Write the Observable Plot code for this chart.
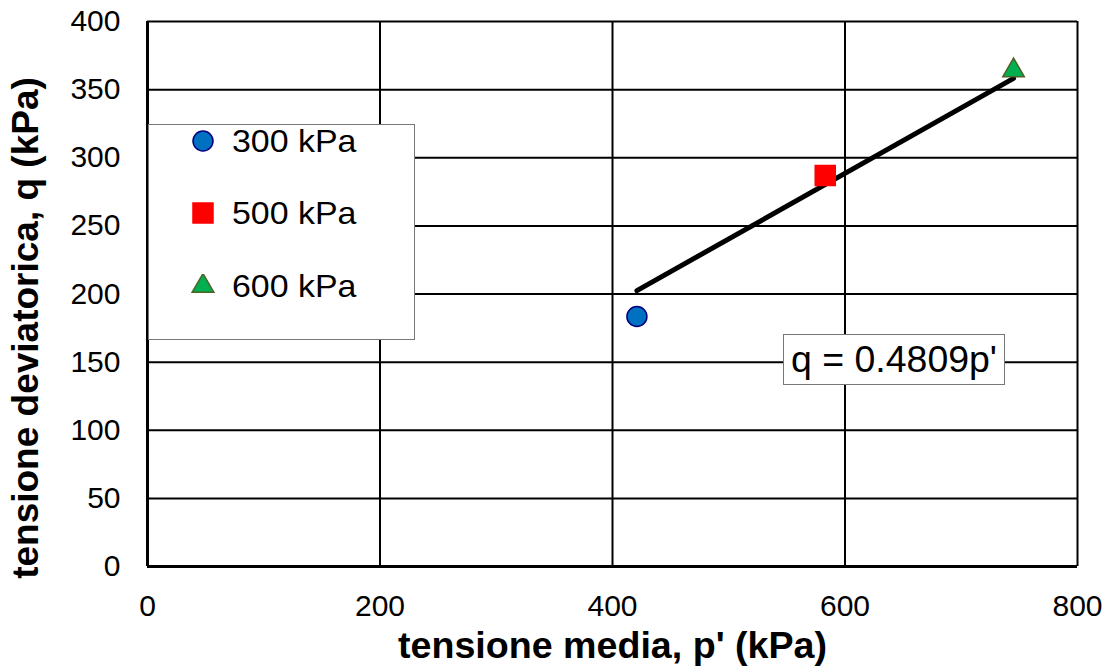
<!DOCTYPE html>
<html><head><meta charset="utf-8">
<script src="https://cdn.jsdelivr.net/npm/d3@7"></script>
<script src="https://cdn.jsdelivr.net/npm/@observablehq/plot@0.6"></script>
<style>
body{margin:0;background:#fff;font-family:"Liberation Sans",Arial,sans-serif;}
#wrap{position:relative;width:1106px;height:668px;overflow:hidden;}
#legend{position:absolute;left:148px;top:124px;width:267px;height:216px;border:1px solid #777;background:#fff;box-sizing:border-box;}
.row{position:absolute;left:0;height:40px;display:flex;align-items:center;font-size:32px;color:#000;white-space:nowrap;}
.row svg{margin-left:42px;margin-right:17px;flex:none;}
.row span{display:inline-block;transform:scaleX(1.06);transform-origin:left center;}
#note{position:absolute;left:783px;top:334px;width:222px;height:51px;border:1px solid #777;background:#fff;box-sizing:border-box;display:flex;align-items:center;justify-content:center;font-size:36px;color:#000;white-space:nowrap;}
#note span{display:inline-block;transform:scaleX(1.04);}
</style></head>
<body><div id="wrap"></div>
<script>
const series = ["300 kPa", "500 kPa", "600 kPa"];
const pValues = [421, 583, 745];
const qValues = [183.5, 287, 364];
const symbols = ["circle", "square", "triangle"];
const fills = ["#0070C0", "#FF0000", "#00B050"];
const strokes = ["#00007F", "#FF0000", "#4F6228"];
const slope = 0.4809;
const equationLabel = "q = 0.4809p'";
const xTicks = [0, 200, 400, 600, 800];
const yTicks = [0, 50, 100, 150, 200, 250, 300, 350, 400];
const xLabel = "tensione media, p' (kPa)";
const yLabel = "tensione deviatorica, q (kPa)";

const data = series.map((s, i) => ({s, p: pValues[i], q: qValues[i], i}));
const pMin = d3.min(pValues), pMax = d3.max(pValues);
const fit = [{p: pMin, q: slope * pMin}, {p: pMax, q: slope * pMax}];
const radii = [10, 11.3, 8];

const chart = Plot.plot({
  width: 1106, height: 668,
  marginLeft: 147, marginRight: 29, marginTop: 21, marginBottom: 102,
  style: {fontFamily: "'Liberation Sans', Arial, sans-serif", background: "white", color: "black", overflow: "visible"},
  x: {domain: [0, 800], ticks: xTicks},
  y: {domain: [0, 400], ticks: yTicks},
  marks: [
    Plot.ruleX(xTicks, {stroke: "black", strokeWidth: 2, strokeOpacity: 1}),
    Plot.ruleY(yTicks, {stroke: "black", strokeWidth: 2, strokeOpacity: 1}),
    Plot.ruleX([0], {stroke: "black", strokeWidth: 3}),
    Plot.ruleY([0], {stroke: "black", strokeWidth: 3}),
    Plot.axisX({ticks: xTicks, tickSize: 0, tickPadding: 28, fontSize: 30, label: null}),
    Plot.axisY({ticks: yTicks, tickSize: 0, tickPadding: 27, fontSize: 30, label: null}),
    Plot.line(fit, {x: "p", y: "q", stroke: "black", strokeWidth: 5}),
    ...data.map(d => Plot.dot([d], {x: "p", y: "q", symbol: symbols[d.i], r: radii[d.i], fill: fills[d.i], stroke: strokes[d.i], strokeWidth: 1.5})),
    Plot.text([xLabel], {frameAnchor: "bottom", dy: 80, lineAnchor: "middle", textAnchor: "middle", fontSize: 37, fontWeight: "bold", fill: "black", className: "xl"}),
    Plot.text([yLabel], {frameAnchor: "left", dx: -121, dy: 34, rotate: -90, lineAnchor: "middle", textAnchor: "middle", fontSize: 37, fontWeight: "bold", fill: "black"})
  ]
});
const wrap = document.getElementById("wrap");
wrap.appendChild(chart);

chart.querySelectorAll(".xl text").forEach(t => {
  t.setAttribute("textLength", "429");
  t.setAttribute("lengthAdjust", "spacingAndGlyphs");
});

// legend
const legend = document.createElement("div");
legend.id = "legend";
const rowTops = [-4, 68, 141];
series.forEach((s, i) => {
  const row = document.createElement("div");
  row.className = "row";
  row.style.top = rowTops[i] + "px";
  const sym = d3.create("svg").attr("width", 24).attr("height", 24);
  const path = d3.symbol(i === 0 ? d3.symbolCircle : i === 1 ? d3.symbolSquare : d3.symbolTriangle, Math.PI * radii[i] * radii[i])();
  sym.append("path").attr("d", path).attr("transform", "translate(12,12)")
    .attr("fill", fills[i]).attr("stroke", strokes[i]).attr("stroke-width", 1.5);
  row.appendChild(sym.node());
  const t = document.createElement("span");
  t.textContent = s;
  row.appendChild(t);
  legend.appendChild(row);
});
wrap.appendChild(legend);

const note = document.createElement("div");
note.id = "note";
const ns = document.createElement("span");
ns.textContent = equationLabel;
note.appendChild(ns);
wrap.appendChild(note);
</script></body></html>
